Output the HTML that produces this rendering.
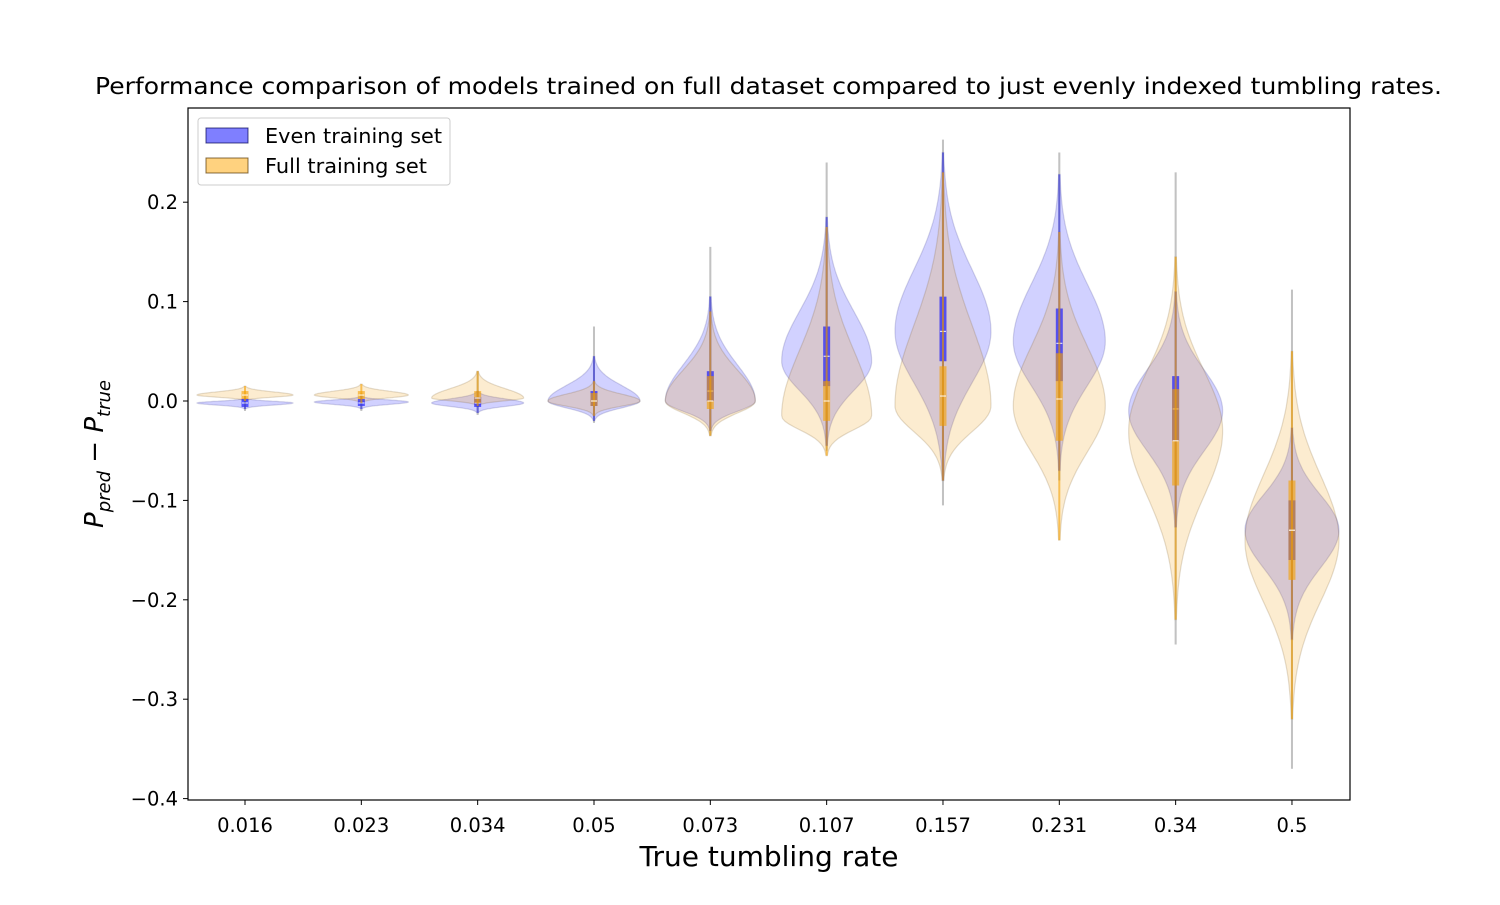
<!DOCTYPE html>
<html><head><meta charset="utf-8"><style>
body{margin:0;background:#fff}
svg text{font-family:"DejaVu Sans","Liberation Sans",sans-serif}
</style></head><body>
<svg id="chart" width="1500" height="900" viewBox="0 0 1500 900" xmlns="http://www.w3.org/2000/svg">
<rect width="1500" height="900" fill="#fff"/>
<text x="95" y="94" font-size="23" textLength="1347" lengthAdjust="spacingAndGlyphs">Performance comparison of models trained on full dataset compared to just evenly indexed tumbling rates.</text>
<g id="marks"></g>
<g id="axes"></g>
<rect x="188" y="108" width="1162" height="692" fill="none" stroke="#000" stroke-width="1.2"/>
<text x="769" y="866" font-size="28" text-anchor="middle">True tumbling rate</text>
<text transform="translate(103,454) rotate(-90)" font-size="26" text-anchor="middle"><tspan font-style="italic">P</tspan><tspan font-style="italic" font-size="18" dy="7">pred</tspan><tspan dy="-7"> − </tspan><tspan font-style="italic">P</tspan><tspan font-style="italic" font-size="18" dy="7">true</tspan></text>
<g>
<rect x="198" y="118" width="252" height="67" rx="3" fill="#fff" fill-opacity="0.85" stroke="#ccc"/>
<rect x="206" y="128" width="42" height="15" fill="rgba(0,0,255,0.5)" stroke="rgba(0,0,80,0.7)"/>
<text x="265" y="143" font-size="20" textLength="177" lengthAdjust="spacingAndGlyphs">Even training set</text>
<rect x="206" y="158" width="42" height="15" fill="rgba(255,165,0,0.5)" stroke="rgba(80,50,0,0.7)"/>
<text x="265" y="173" font-size="20" textLength="162" lengthAdjust="spacingAndGlyphs">Full training set</text>
</g>
</svg>
<script>
const categories=["0.016","0.023","0.034","0.05","0.073","0.107","0.157","0.231","0.34","0.5"];
const yTicks=[0.2,0.1,0.0,-0.1,-0.2,-0.3,-0.4];
// even training set stats
const evenMode=[-0.002,-0.001,-0.002,0.0,0.0,0.04,0.07,0.06,-0.01,-0.13];
const evenMin=[-0.008,-0.008,-0.012,-0.02,-0.03,-0.045,-0.08,-0.07,-0.127,-0.24];
const evenMax=[0.003,0.005,0.01,0.045,0.105,0.185,0.25,0.228,0.11,-0.027];
const evenQ1=[-0.006,-0.005,-0.006,-0.005,0.0,0.015,0.04,0.02,-0.04,-0.16];
const evenMed=[-0.002,-0.002,-0.002,0.0,0.01,0.045,0.07,0.058,-0.008,-0.13];
const evenQ3=[0.002,0.002,0.004,0.01,0.03,0.075,0.105,0.093,0.025,-0.1];
const evenWMin=[-0.01,-0.01,-0.014,-0.022,-0.035,-0.05,-0.105,-0.08,-0.245,-0.37];
const evenWMax=[0.005,0.008,0.03,0.075,0.155,0.24,0.263,0.25,0.23,0.112];
// full training set stats
const fullMode=[0.006,0.006,0.003,0.0,0.0,-0.015,-0.005,-0.005,-0.03,-0.14];
const fullMin=[0.0,-0.002,-0.005,-0.015,-0.035,-0.055,-0.08,-0.14,-0.22,-0.32];
const fullMax=[0.015,0.017,0.03,0.02,0.09,0.175,0.23,0.17,0.145,0.05];
const fullQ1=[0.002,0.002,-0.002,-0.005,-0.008,-0.02,-0.025,-0.04,-0.085,-0.18];
const fullMed=[0.006,0.006,0.003,0.0,0.0,0.0,0.005,0.002,-0.04,-0.13];
const fullQ3=[0.01,0.01,0.01,0.008,0.025,0.02,0.035,0.048,0.012,-0.08];
const halfW=[48,47,46,46,45,45,48,46,47,47];
</script>
<script>
const NS="http://www.w3.org/2000/svg";
const X0=245,DX=116.33;
function xs(i){return X0+i*DX;}
function ys(v){return 401-v*994;}
const axes=document.getElementById('axes'),marks=document.getElementById('marks');
function mk(tag,attrs,parent){const e=document.createElementNS(NS,tag);for(const k in attrs)e.setAttribute(k,attrs[k]);parent.appendChild(e);return e;}
yTicks.forEach(t=>{
  const l=mk('line',{x1:183,x2:188,y1:ys(t),y2:ys(t),stroke:'#000'},axes);
  
  
  const tx=mk('text',{x:178,y:ys(t)+7,'font-size':19.5,'text-anchor':'end'},axes);
  
  
  tx.textContent=(t<0?'\u2212':'')+Math.abs(t).toFixed(1);
});
categories.forEach((c,i)=>{
  const l=mk('line',{x1:xs(i),x2:xs(i),y1:800,y2:805,stroke:'#000'},axes);
  
  
  const tx=mk('text',{x:xs(i),y:832,'font-size':19.5,'text-anchor':'middle'},axes);
  
  
  tx.textContent=c;
});
function violin(i,mode,mn,mx,hw,fill,stroke,name){
  const su=Math.max((mx-mode)/2.9,1e-4),sd=Math.max((mode-mn)/2.9,1e-4);
  const N=80,pts=[];
  for(let k=0;k<=N;k++){const v=mn+(mx-mn)*k/N;const s=v>mode?su:sd;const z=(v-mode)/s;const w=hw*Math.exp(-0.5*z*z);pts.push([v,w]);}
  let d='M'+pts.map(p=>(xs(i)+p[1]).toFixed(1)+','+ys(p[0]).toFixed(1)).join('L');
  d+='L'+pts.slice().reverse().map(p=>(xs(i)-p[1]).toFixed(1)+','+ys(p[0]).toFixed(1)).join('L')+'Z';
  const p=mk('path',{d:d,fill:fill,stroke:stroke,'stroke-width':1.2},marks);
  
  
}
function box(i,wmin,wmax,mn,mx,q1,med,q3,col,name){
  const g=mk('g',{},marks);
  
  
  mk('line',{x1:xs(i),x2:xs(i),y1:ys(wmin),y2:ys(wmax),stroke:'rgba(150,150,150,0.35)','stroke-width':2},g);
  mk('line',{x1:xs(i),x2:xs(i),y1:ys(mn),y2:ys(mx),stroke:col,'stroke-width':2,'stroke-opacity':0.6},g);
  mk('line',{x1:xs(i),x2:xs(i),y1:ys(q1),y2:ys(q3),stroke:col,'stroke-width':7,'stroke-opacity':0.6},g);
  mk('line',{x1:xs(i)-3,x2:xs(i)+3,y1:ys(med),y2:ys(med),stroke:'#fff','stroke-width':1.2,'stroke-opacity':0.8},g);
}
categories.forEach((c,i)=>{
  violin(i,evenMode[i],evenMin[i],evenMax[i],halfW[i],'rgba(0,0,255,0.18)','rgba(40,40,120,0.18)','violin-even-'+c);
  violin(i,fullMode[i],fullMin[i],fullMax[i],halfW[i],'rgba(240,160,20,0.2)','rgba(120,90,40,0.2)','violin-full-'+c);
  box(i,evenWMin[i],evenWMax[i],evenMin[i],evenMax[i],evenQ1[i],evenMed[i],evenQ3[i],'#0000ff','box-even-'+c);
  box(i,evenWMin[i],evenWMax[i],fullMin[i],fullMax[i],fullQ1[i],fullMed[i],fullQ3[i],'#f5a000','box-full-'+c);
});
</script>
</body></html>
